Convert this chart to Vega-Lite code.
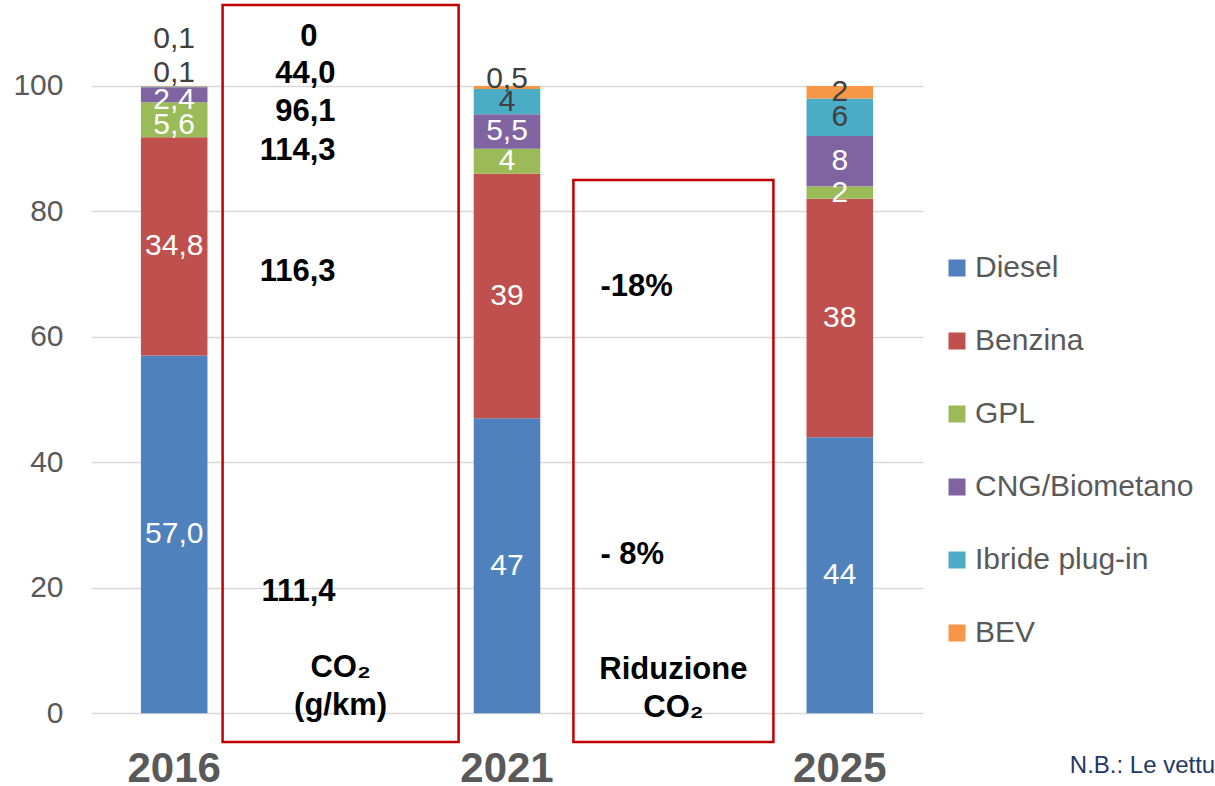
{
  "$schema": "https://vega.github.io/schema/vega-lite/v6.json",
  "autosize": {"type": "none"},
  "width": 832,
  "height": 737,
  "padding": {"left": 91, "top": 5, "right": 292, "bottom": 44},
  "background": "white",
  "config": {
    "view": {"stroke": null},
    "font": "Liberation Sans",
    "axis": {"domain": false, "ticks": false, "tickSize": 0, "labelFont": "Liberation Sans", "labelColor": "#595959", "title": null},
    "axisX": {"grid": false, "labelFontSize": 42, "labelFontWeight": "bold", "labelBaseline": "alphabetic", "labelPadding": 39, "labelAngle": 0},
    "axisY": {"grid": true, "gridColor": "#D9D9D9", "gridWidth": 1.5, "labelFontSize": 30, "labelPadding": 28, "labelBaseline": "middle"},
    "legend": {"labelFont": "Liberation Sans"}
  },
  "datasets": {
    "mix": [
      {"slot": "2016", "fuel": "Diesel", "value": 57.0, "label": "57,0", "o": 0},
      {"slot": "2016", "fuel": "Benzina", "value": 34.8, "label": "34,8", "o": 1},
      {"slot": "2016", "fuel": "GPL", "value": 5.6, "label": "5,6", "o": 2},
      {"slot": "2016", "fuel": "CNG/Biometano", "value": 2.4, "label": "2,4", "o": 3},
      {"slot": "2016", "fuel": "Ibride plug-in", "value": 0.1, "label": "0,1", "o": 4},
      {"slot": "2016", "fuel": "BEV", "value": 0.1, "label": "0,1", "o": 5},
      {"slot": "2021", "fuel": "Diesel", "value": 47, "label": "47", "o": 0},
      {"slot": "2021", "fuel": "Benzina", "value": 39, "label": "39", "o": 1},
      {"slot": "2021", "fuel": "GPL", "value": 4, "label": "4", "o": 2},
      {"slot": "2021", "fuel": "CNG/Biometano", "value": 5.5, "label": "5,5", "o": 3},
      {"slot": "2021", "fuel": "Ibride plug-in", "value": 4, "label": "4", "o": 4},
      {"slot": "2021", "fuel": "BEV", "value": 0.5, "label": "0,5", "o": 5},
      {"slot": "2025", "fuel": "Diesel", "value": 44, "label": "44", "o": 0},
      {"slot": "2025", "fuel": "Benzina", "value": 38, "label": "38", "o": 1},
      {"slot": "2025", "fuel": "GPL", "value": 2, "label": "2", "o": 2},
      {"slot": "2025", "fuel": "CNG/Biometano", "value": 8, "label": "8", "o": 3},
      {"slot": "2025", "fuel": "Ibride plug-in", "value": 6, "label": "6", "o": 4},
      {"slot": "2025", "fuel": "BEV", "value": 2, "label": "2", "o": 5}
    ],
    "co2": [
      {"slot": "CO2", "pos": 101.9, "txt": "44,0"},
      {"slot": "CO2", "pos": 95.8, "txt": "96,1"},
      {"slot": "CO2", "pos": 89.6, "txt": "114,3"},
      {"slot": "CO2", "pos": 70.4, "txt": "116,3"},
      {"slot": "CO2", "pos": 19.3, "txt": "111,4"}
    ],
    "co2zero": [
      {"slot": "CO2", "pos": 107.8, "txt": "0"}
    ],
    "rid": [
      {"slot": "Rid", "pos": 68.0, "txt": "-18%"},
      {"slot": "Rid", "pos": 25.2, "txt": "- 8%"}
    ],
    "titles": [
      {"slot": "CO2", "pos": 7.2, "txt": "CO₂\n(g/km)"},
      {"slot": "Rid", "pos": 6.9, "txt": "Riduzione\nCO₂"}
    ],
    "box1": [{"slot": "CO2", "top": 112.9, "bottom": -4.6}],
    "box2": [{"slot": "Rid", "top": 85.0, "bottom": -4.6}],
    "note": [{"slot": "2025", "pos": -8.4, "txt": "N.B.: Le vettu"}]
  },
  "data": {"name": "mix"},
  "transform": [
    {"stack": "value", "groupby": ["slot"], "sort": [{"field": "o", "order": "ascending"}], "as": ["v0", "v1"]},
    {"calculate": "(datum.v0 + datum.v1) / 2", "as": "mid"}
  ],
  "layer": [
    {
      "data": {"name": "box1"},
      "mark": {"type": "bar", "width": 236, "filled": false, "stroke": "#C00000", "strokeWidth": 2.5},
      "encoding": {
        "x": {"field": "slot", "type": "nominal", "sort": null,
              "scale": {"domain": ["2016", "CO2", "2021", "Rid", "2025"], "paddingInner": 0, "paddingOuter": 0},
              "axis": {"values": ["2016", "2021", "2025"], "title": null}},
        "y": {"field": "top", "type": "quantitative",
              "scale": {"domain": [-4.6, 112.9], "nice": false, "zero": false},
              "axis": {"values": [0, 20, 40, 60, 80, 100], "title": null}},
        "y2": {"field": "bottom"}
      }
    },
    {
      "mark": {"type": "bar", "width": {"band": 0.4}},
      "encoding": {
        "x": {"field": "slot", "type": "nominal", "sort": null,
              "scale": {"domain": ["2016", "CO2", "2021", "Rid", "2025"], "paddingInner": 0, "paddingOuter": 0},
              "axis": {"values": ["2016", "2021", "2025"], "title": null}},
        "y": {"field": "v0", "type": "quantitative",
              "scale": {"domain": [-4.6, 112.9], "nice": false, "zero": false},
              "axis": {"values": [0, 20, 40, 60, 80, 100], "title": null}},
        "y2": {"field": "v1"},
        "color": {"field": "fuel", "type": "nominal",
                  "scale": {"domain": ["Diesel", "Benzina", "GPL", "CNG/Biometano", "Ibride plug-in", "BEV"],
                            "range": ["#4F81BD", "#C0504D", "#9BBB59", "#8064A2", "#4BACC6", "#F79646"]},
                  "legend": {"title": null, "orient": "none", "legendX": 851, "legendY": 248, "padding": 0,
                             "symbolType": "square", "symbolSize": 289, "symbolStrokeWidth": 0, "labelLimit": 400,
                             "labelFontSize": 30, "labelColor": "#595959", "labelOffset": 3, "rowPadding": 43}}
      }
    },
    {
      "data": {"name": "box2"},
      "mark": {"type": "bar", "width": 200, "filled": false, "stroke": "#C00000", "strokeWidth": 2.5},
      "encoding": {
        "x": {"field": "slot", "type": "nominal", "sort": null,
              "scale": {"domain": ["2016", "CO2", "2021", "Rid", "2025"], "paddingInner": 0, "paddingOuter": 0},
              "axis": {"values": ["2016", "2021", "2025"], "title": null}},
        "y": {"field": "top", "type": "quantitative",
              "scale": {"domain": [-4.6, 112.9], "nice": false, "zero": false},
              "axis": {"values": [0, 20, 40, 60, 80, 100], "title": null}},
        "y2": {"field": "bottom"}
      }
    },
    {
      "transform": [{"filter": "!(datum.slot == '2016' && datum.o >= 2) && !(datum.slot == '2021' && datum.o == 5)"}],
      "mark": {"type": "text", "fontSize": 30, "baseline": "middle", "align": "center"},
      "encoding": {
        "x": {"field": "slot", "type": "nominal", "sort": null,
              "scale": {"domain": ["2016", "CO2", "2021", "Rid", "2025"], "paddingInner": 0, "paddingOuter": 0},
              "axis": {"values": ["2016", "2021", "2025"], "title": null}},
        "y": {"field": "mid", "type": "quantitative",
              "scale": {"domain": [-4.6, 112.9], "nice": false, "zero": false},
              "axis": {"values": [0, 20, 40, 60, 80, 100], "title": null}},
        "text": {"field": "label"},
        "color": {"condition": {"test": "datum.o >= 4", "value": "#404040"}, "value": "white"}
      }
    },
    {
      "transform": [{"filter": "datum.slot == '2016' && (datum.o == 2 || datum.o == 3)"}],
      "mark": {"type": "text", "fontSize": 30, "baseline": "middle", "align": "center", "dy": 5, "fill": "white"},
      "encoding": {
        "x": {"field": "slot", "type": "nominal", "sort": null,
              "scale": {"domain": ["2016", "CO2", "2021", "Rid", "2025"], "paddingInner": 0, "paddingOuter": 0},
              "axis": {"values": ["2016", "2021", "2025"], "title": null}},
        "y": {"field": "mid", "type": "quantitative",
              "scale": {"domain": [-4.6, 112.9], "nice": false, "zero": false},
              "axis": {"values": [0, 20, 40, 60, 80, 100], "title": null}},
        "text": {"field": "label"}
      }
    },
    {
      "transform": [{"filter": "datum.slot == '2016' && datum.o == 4"}],
      "mark": {"type": "text", "fontSize": 30, "baseline": "middle", "align": "center", "dy": -14, "fill": "#404040"},
      "encoding": {
        "x": {"field": "slot", "type": "nominal", "sort": null,
              "scale": {"domain": ["2016", "CO2", "2021", "Rid", "2025"], "paddingInner": 0, "paddingOuter": 0},
              "axis": {"values": ["2016", "2021", "2025"], "title": null}},
        "y": {"field": "mid", "type": "quantitative",
              "scale": {"domain": [-4.6, 112.9], "nice": false, "zero": false},
              "axis": {"values": [0, 20, 40, 60, 80, 100], "title": null}},
        "text": {"field": "label"}
      }
    },
    {
      "transform": [{"filter": "datum.slot == '2016' && datum.o == 5"}],
      "mark": {"type": "text", "fontSize": 30, "baseline": "middle", "align": "center", "dy": -47, "fill": "#404040"},
      "encoding": {
        "x": {"field": "slot", "type": "nominal", "sort": null,
              "scale": {"domain": ["2016", "CO2", "2021", "Rid", "2025"], "paddingInner": 0, "paddingOuter": 0},
              "axis": {"values": ["2016", "2021", "2025"], "title": null}},
        "y": {"field": "mid", "type": "quantitative",
              "scale": {"domain": [-4.6, 112.9], "nice": false, "zero": false},
              "axis": {"values": [0, 20, 40, 60, 80, 100], "title": null}},
        "text": {"field": "label"}
      }
    },
    {
      "transform": [{"filter": "datum.slot == '2021' && datum.o == 5"}],
      "mark": {"type": "text", "fontSize": 30, "baseline": "middle", "align": "center", "dy": -8, "fill": "#404040"},
      "encoding": {
        "x": {"field": "slot", "type": "nominal", "sort": null,
              "scale": {"domain": ["2016", "CO2", "2021", "Rid", "2025"], "paddingInner": 0, "paddingOuter": 0},
              "axis": {"values": ["2016", "2021", "2025"], "title": null}},
        "y": {"field": "mid", "type": "quantitative",
              "scale": {"domain": [-4.6, 112.9], "nice": false, "zero": false},
              "axis": {"values": [0, 20, 40, 60, 80, 100], "title": null}},
        "text": {"field": "label"}
      }
    },
    {
      "data": {"name": "co2"},
      "mark": {"type": "text", "fontSize": 31, "fontWeight": "bold", "baseline": "middle", "align": "right", "dx": -5, "fill": "black"},
      "encoding": {
        "x": {"field": "slot", "type": "nominal", "sort": null,
              "scale": {"domain": ["2016", "CO2", "2021", "Rid", "2025"], "paddingInner": 0, "paddingOuter": 0},
              "axis": {"values": ["2016", "2021", "2025"], "title": null}},
        "y": {"field": "pos", "type": "quantitative",
              "scale": {"domain": [-4.6, 112.9], "nice": false, "zero": false},
              "axis": {"values": [0, 20, 40, 60, 80, 100], "title": null}},
        "text": {"field": "txt"}
      }
    },
    {
      "data": {"name": "co2zero"},
      "mark": {"type": "text", "fontSize": 31, "fontWeight": "bold", "baseline": "middle", "align": "right", "dx": -23, "fill": "black"},
      "encoding": {
        "x": {"field": "slot", "type": "nominal", "sort": null,
              "scale": {"domain": ["2016", "CO2", "2021", "Rid", "2025"], "paddingInner": 0, "paddingOuter": 0},
              "axis": {"values": ["2016", "2021", "2025"], "title": null}},
        "y": {"field": "pos", "type": "quantitative",
              "scale": {"domain": [-4.6, 112.9], "nice": false, "zero": false},
              "axis": {"values": [0, 20, 40, 60, 80, 100], "title": null}},
        "text": {"field": "txt"}
      }
    },
    {
      "data": {"name": "rid"},
      "mark": {"type": "text", "fontSize": 31, "fontWeight": "bold", "baseline": "middle", "align": "left", "dx": -73, "fill": "black"},
      "encoding": {
        "x": {"field": "slot", "type": "nominal", "sort": null,
              "scale": {"domain": ["2016", "CO2", "2021", "Rid", "2025"], "paddingInner": 0, "paddingOuter": 0},
              "axis": {"values": ["2016", "2021", "2025"], "title": null}},
        "y": {"field": "pos", "type": "quantitative",
              "scale": {"domain": [-4.6, 112.9], "nice": false, "zero": false},
              "axis": {"values": [0, 20, 40, 60, 80, 100], "title": null}},
        "text": {"field": "txt"}
      }
    },
    {
      "data": {"name": "titles"},
      "mark": {"type": "text", "fontSize": 31, "fontWeight": "bold", "baseline": "middle", "align": "center", "lineBreak": "\n", "lineHeight": 38, "fill": "black"},
      "encoding": {
        "x": {"field": "slot", "type": "nominal", "sort": null,
              "scale": {"domain": ["2016", "CO2", "2021", "Rid", "2025"], "paddingInner": 0, "paddingOuter": 0},
              "axis": {"values": ["2016", "2021", "2025"], "title": null}},
        "y": {"field": "pos", "type": "quantitative",
              "scale": {"domain": [-4.6, 112.9], "nice": false, "zero": false},
              "axis": {"values": [0, 20, 40, 60, 80, 100], "title": null}},
        "text": {"field": "txt"}
      }
    },
    {
      "data": {"name": "note"},
      "mark": {"type": "text", "fontSize": 24, "baseline": "middle", "align": "left", "dx": 230, "fill": "#1F3864"},
      "encoding": {
        "x": {"field": "slot", "type": "nominal", "sort": null,
              "scale": {"domain": ["2016", "CO2", "2021", "Rid", "2025"], "paddingInner": 0, "paddingOuter": 0},
              "axis": {"values": ["2016", "2021", "2025"], "title": null}},
        "y": {"field": "pos", "type": "quantitative",
              "scale": {"domain": [-4.6, 112.9], "nice": false, "zero": false},
              "axis": {"values": [0, 20, 40, 60, 80, 100], "title": null}},
        "text": {"field": "txt"}
      }
    }
  ]
}
